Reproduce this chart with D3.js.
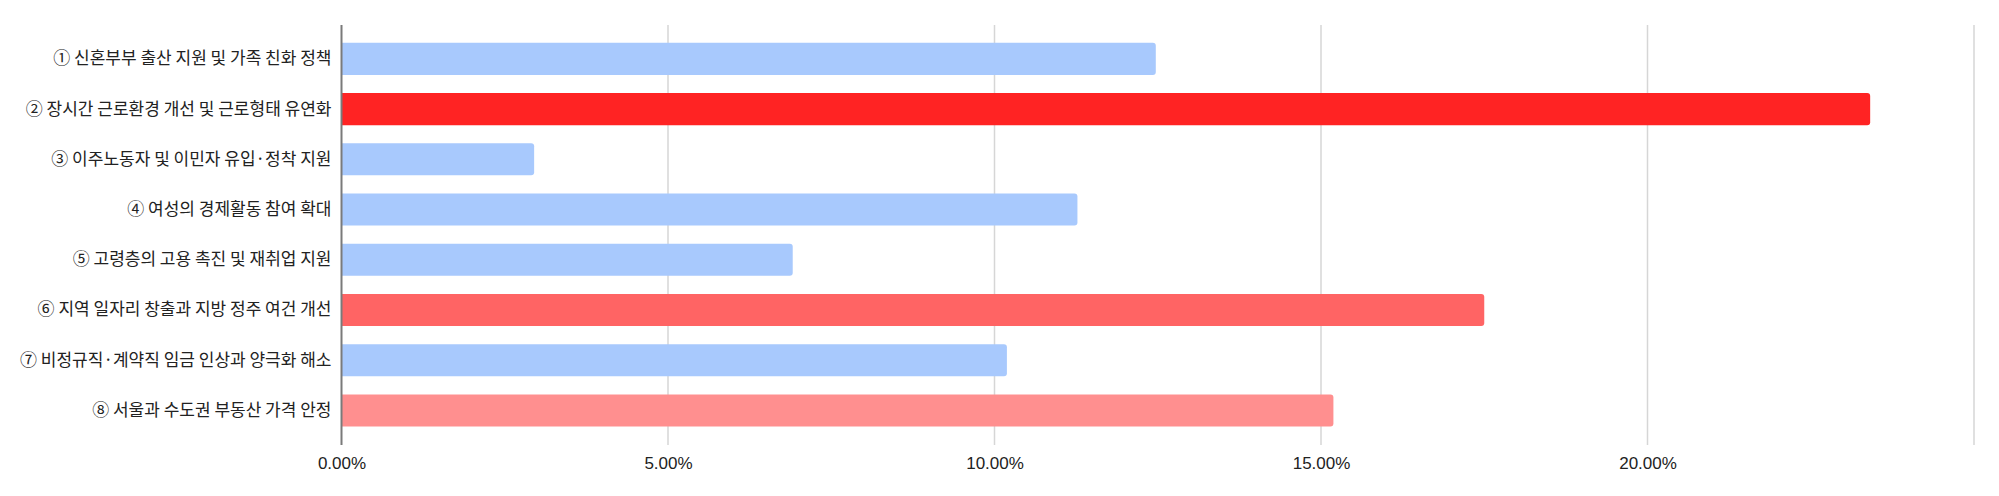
<!DOCTYPE html>
<html><head><meta charset="utf-8">
<script src="https://cdn.jsdelivr.net/npm/d3@7"></script>
<style>
html,body{margin:0;padding:0;background:#fff;}
svg{display:block;}
</style></head>
<body>
<svg id="chart" width="1999" height="496"></svg>
<script>
const categories = [
  "① 신혼부부 출산 지원 및 가족 친화 정책",
  "② 장시간 근로환경 개선 및 근로형태 유연화",
  "③ 이주노동자 및 이민자 유입·정착 지원",
  "④ 여성의 경제활동 참여 확대",
  "⑤ 고령층의 고용 촉진 및 재취업 지원",
  "⑥ 지역 일자리 창출과 지방 정주 여건 개선",
  "⑦ 비정규직·계약직 임금 인상과 양극화 해소",
  "⑧ 서울과 수도권 부동산 가격 안정"
];
const values = [0.1247, 0.2341, 0.0295, 0.1127, 0.0691, 0.1750, 0.1019, 0.1519];
const barColors = ["#a8c9fd", "#ff2323", "#a8c9fd", "#a8c9fd", "#a8c9fd", "#ff6464", "#a8c9fd", "#ff8f8f"];
const tickValues = [0, 0.05, 0.10, 0.15, 0.20, 0.25];
const tickLabels = ["0.00%", "5.00%", "10.00%", "15.00%", "20.00%", ""];

const svg = d3.select("#chart");
const x = d3.scaleLinear().domain([0, 0.25]).range([341.5, 1974]);
const y = d3.scaleBand().domain(categories).range([33.7, 435.6]).paddingInner(0.36).paddingOuter(0.18);
const plotTop = 25, plotBottom = 445;

// gridlines
svg.append("g").selectAll("line").data(tickValues.slice(1)).join("line")
  .attr("x1", d => x(d)).attr("x2", d => x(d))
  .attr("y1", plotTop).attr("y2", plotBottom)
  .attr("stroke", "#d6d6d6").attr("stroke-width", 1.5);

// bars
svg.append("g").selectAll("path").data(values).join("path")
  .attr("d", (d, i) => {
    const x0 = x(0), x1 = x(d), y0 = y(categories[i]), h = y.bandwidth(), r = 3;
    return `M${x0},${y0}H${x1 - r}Q${x1},${y0} ${x1},${y0 + r}V${y0 + h - r}Q${x1},${y0 + h} ${x1 - r},${y0 + h}H${x0}Z`;
  })
  .attr("fill", (d, i) => barColors[i]);

// axis line
svg.append("line").attr("x1", x(0)).attr("x2", x(0)).attr("y1", plotTop).attr("y2", plotBottom)
  .attr("stroke", "#7a7a7a").attr("stroke-width", 2);

// x tick labels
const xAxis = d3.axisBottom(x).tickValues(tickValues).tickSize(0).tickFormat((d, i) => tickLabels[i]);
const gx = svg.append("g").attr("transform", `translate(0,${plotBottom})`).call(xAxis);
gx.select(".domain").remove();
gx.selectAll("text").attr("dy", null).attr("y", 24)
  .attr("font-family", "'Liberation Sans', Arial, sans-serif").attr("font-size", 17).attr("fill", "#222");

// y category labels
const yAxis = d3.axisLeft(y).tickSize(0).tickPadding(10);
const gy = svg.append("g").attr("transform", `translate(${x(0)},0)`).call(yAxis);
gy.select(".domain").remove();
gy.selectAll("text")
  .attr("font-family", "'Noto Sans CJK KR', sans-serif").attr("font-size", 17).attr("fill", "#222");
</script>
</body></html>
